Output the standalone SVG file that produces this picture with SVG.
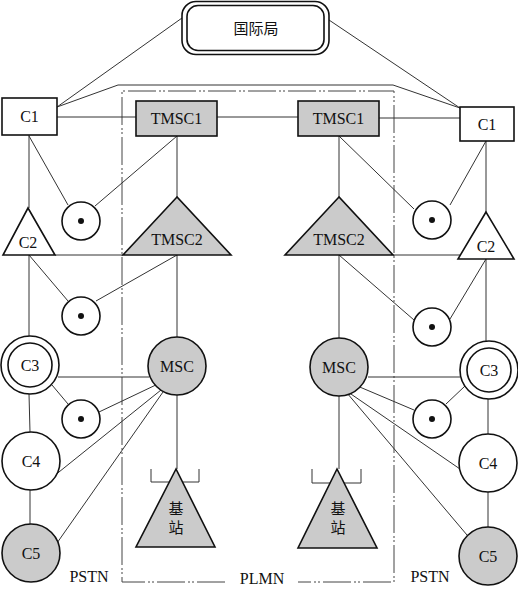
<svg xmlns="http://www.w3.org/2000/svg" width="518" height="589" viewBox="0 0 518 589">
<style>
.n{stroke:#111;stroke-width:1.6;fill:#fff}
.g{fill:#cbcbcb}
.c line,.c polyline,.c path{stroke:#333;stroke-width:1;fill:none}
.t{font-family:"Liberation Serif","DejaVu Serif","Noto Serif",serif;font-size:16px;fill:#111;text-anchor:middle}
.k{font-family:"Noto Sans CJK SC","Noto Sans CJK JP",sans-serif;font-size:15px;fill:#111;text-anchor:middle}
.dd{stroke:#444;stroke-width:1;fill:none;stroke-dasharray:28 3 2 2 2 3}
.dot{fill:#111}
</style>
<rect width="518" height="589" fill="#fff"/>
<g id="plmn-boundary">
<path class="dd" d="M225,582 H122 V91 H394 V582 H298"/>
<text class="t" x="262" y="584">PLMN</text>
</g>
<g class="c" id="connectors">
<line x1="182" y1="18" x2="57" y2="107"/>
<line x1="329" y1="20" x2="460" y2="108"/>
<polyline points="57,107 118,85 393,85 460,108"/>
<line x1="57" y1="117" x2="136" y2="117"/>
<line x1="217" y1="117" x2="298" y2="117"/>
<line x1="379" y1="118" x2="460" y2="118"/>
<line x1="29" y1="135" x2="29" y2="208"/>
<line x1="29" y1="136" x2="68" y2="205"/>
<line x1="177" y1="136" x2="95" y2="206"/>
<line x1="177" y1="136" x2="177" y2="197"/>
<line x1="339" y1="136" x2="339" y2="197"/>
<line x1="339" y1="136" x2="414" y2="209"/>
<line x1="486" y1="141" x2="486" y2="212"/>
<line x1="486" y1="141" x2="450" y2="205"/>
<line x1="55" y1="255" x2="123" y2="255"/>
<line x1="393" y1="255" x2="462" y2="255"/>
<line x1="29" y1="255" x2="29" y2="336"/>
<line x1="29" y1="255" x2="68" y2="301"/>
<line x1="177" y1="255" x2="96" y2="301"/>
<line x1="177" y1="255" x2="177" y2="337"/>
<line x1="339" y1="255" x2="339" y2="338"/>
<line x1="339" y1="255" x2="414" y2="320"/>
<line x1="486" y1="259" x2="486" y2="341"/>
<line x1="486" y1="259" x2="450" y2="319"/>
<line x1="58" y1="377" x2="149" y2="377"/>
<line x1="368" y1="377" x2="460" y2="377"/>
<line x1="52" y1="385" x2="68" y2="404"/>
<line x1="160" y1="383" x2="99" y2="412"/>
<line x1="161" y1="390" x2="54" y2="476"/>
<line x1="163" y1="392" x2="57" y2="543"/>
<line x1="29" y1="394" x2="30" y2="432"/>
<line x1="30" y1="490" x2="30" y2="524"/>
<line x1="177" y1="395" x2="177" y2="469"/>
<path d="M151,469 V482 H199 V469"/>
<line x1="339" y1="396" x2="339" y2="469"/>
<path d="M312,469 V483 H361 V469"/>
<line x1="355" y1="385" x2="414" y2="410"/>
<line x1="465" y1="386" x2="446" y2="404"/>
<line x1="348" y1="392" x2="460" y2="469"/>
<line x1="347" y1="393" x2="467" y2="535"/>
<line x1="488" y1="399" x2="488" y2="434"/>
<line x1="488" y1="492" x2="488" y2="527"/>
</g>
<g id="intl">
<rect class="n" x="182" y="1.5" width="147" height="53" rx="14"/>
<rect class="n" x="187" y="5.5" width="137" height="45" rx="11"/>
<text class="k" x="256" y="34">国际局</text>
</g>
<g id="c1-left"><rect class="n" x="2" y="98" width="55" height="37"/><text class="t" x="29.5" y="122">C1</text></g>
<g id="c1-right"><rect class="n" x="460" y="107" width="54" height="34"/><text class="t" x="487" y="130">C1</text></g>
<g id="tmsc1-left"><rect class="n g" x="136" y="101" width="81" height="35"/><text class="t" x="176.5" y="124">TMSC1</text></g>
<g id="tmsc1-right"><rect class="n g" x="298" y="101" width="81" height="35"/><text class="t" x="338.5" y="124">TMSC1</text></g>
<g id="tmsc2-left"><polygon class="n g" points="177,197 123,255 231,255"/><text class="t" x="177" y="245">TMSC2</text></g>
<g id="tmsc2-right"><polygon class="n g" points="339,197 285,255 393,255"/><text class="t" x="339" y="245">TMSC2</text></g>
<g id="c2-left"><polygon class="n" points="28,208 3,255 55,255"/><text class="t" x="28" y="248">C2</text></g>
<g id="c2-right"><polygon class="n" points="486,212 458,259 514,259"/><text class="t" x="486" y="252">C2</text></g>
<g id="dot1-left"><circle class="n" cx="81" cy="221" r="19"/><circle class="dot" cx="81" cy="221" r="3"/></g>
<g id="dot2-left"><circle class="n" cx="81" cy="316" r="19"/><circle class="dot" cx="81" cy="316" r="3"/></g>
<g id="dot3-left"><circle class="n" cx="81" cy="419" r="19"/><circle class="dot" cx="81" cy="419" r="3"/></g>
<g id="dot1-right"><circle class="n" cx="432" cy="220" r="19"/><circle class="dot" cx="432" cy="220" r="3"/></g>
<g id="dot2-right"><circle class="n" cx="432" cy="327" r="19"/><circle class="dot" cx="432" cy="327" r="3"/></g>
<g id="dot3-right"><circle class="n" cx="432" cy="419" r="19"/><circle class="dot" cx="432" cy="419" r="3"/></g>
<g id="c3-left"><circle class="n" cx="30" cy="365" r="29"/><circle class="n" cx="30" cy="365" r="22"/><text class="t" x="30" y="371">C3</text></g>
<g id="c3-right"><circle class="n" cx="489" cy="370" r="29"/><circle class="n" cx="489" cy="370" r="22"/><text class="t" x="489" y="376">C3</text></g>
<g id="msc-left"><circle class="n g" cx="177" cy="366" r="29"/><text class="t" x="177" y="372">MSC</text></g>
<g id="msc-right"><circle class="n g" cx="339" cy="367" r="29"/><text class="t" x="339" y="373">MSC</text></g>
<g id="c4-left"><circle class="n" cx="31" cy="461" r="29"/><text class="t" x="31" y="467">C4</text></g>
<g id="c4-right"><circle class="n" cx="488" cy="463" r="29"/><text class="t" x="488" y="469">C4</text></g>
<g id="c5-left"><circle class="n g" cx="31" cy="553" r="29"/><text class="t" x="31" y="559">C5</text></g>
<g id="c5-right"><circle class="n g" cx="488" cy="556" r="29"/><text class="t" x="488" y="562">C5</text></g>
<g id="bs-left"><polygon class="n g" points="176,469 136,547 215,547"/><text class="k" x="176" y="514">基</text><text class="k" x="176" y="533">站</text></g>
<g id="bs-right"><polygon class="n g" points="337,469 298,548 377,548"/><text class="k" x="338" y="514">基</text><text class="k" x="338" y="533">站</text></g>
<text class="t" x="89" y="582">PSTN</text>
<text class="t" x="430" y="582">PSTN</text>
</svg>
